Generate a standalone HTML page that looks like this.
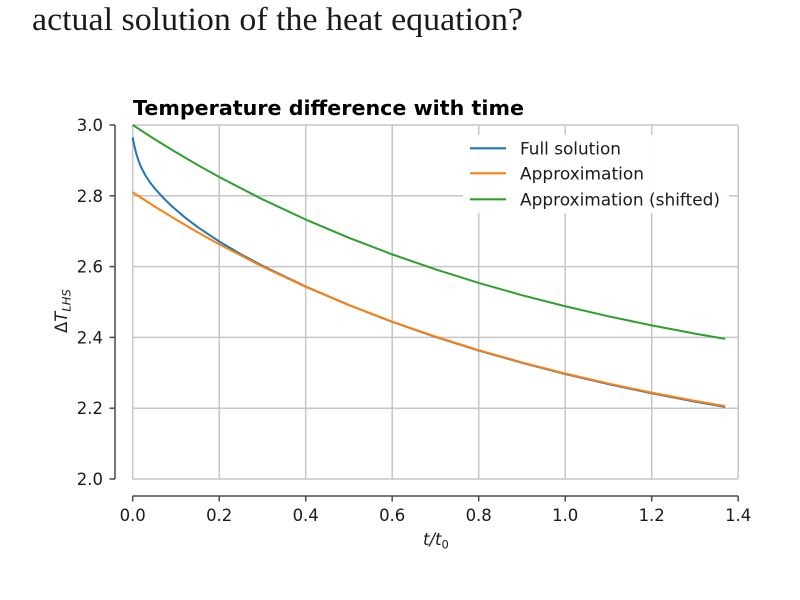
<!DOCTYPE html>
<html>
<head>
<meta charset="utf-8">
<style>
  html, body { margin: 0; padding: 0; background: #ffffff; }
  svg { display: block; }
</style>
</head>
<body>
<svg width="800" height="600" viewBox="0 0 800 600" xmlns="http://www.w3.org/2000/svg">
  <rect x="0" y="0" width="800" height="600" fill="#ffffff"/>

  <!-- Heading -->
  <text x="32" y="30" font-family="Liberation Serif, serif" font-size="33" fill="#1a1a1a" textLength="491" lengthAdjust="spacingAndGlyphs">actual solution of the heat equation?</text>

  <!-- Title -->
  <text x="133" y="115" font-family="DejaVu Sans, Liberation Sans, sans-serif" font-weight="bold" font-size="20" fill="#000" textLength="391" lengthAdjust="spacingAndGlyphs">Temperature difference with time</text>

  <!-- Grid -->
  <g stroke="#c6c6c6" stroke-width="1.5" fill="none">
    <line x1="132.7" y1="125" x2="738.2" y2="125"/>
    <line x1="132.7" y1="195.8" x2="738.2" y2="195.8"/>
    <line x1="132.7" y1="266.6" x2="738.2" y2="266.6"/>
    <line x1="132.7" y1="337.4" x2="738.2" y2="337.4"/>
    <line x1="132.7" y1="408.2" x2="738.2" y2="408.2"/>
    <line x1="132.7" y1="479" x2="738.2" y2="479"/>
    <line x1="132.7" y1="125" x2="132.7" y2="479"/>
    <line x1="219.2" y1="125" x2="219.2" y2="479"/>
    <line x1="305.7" y1="125" x2="305.7" y2="479"/>
    <line x1="392.2" y1="125" x2="392.2" y2="479"/>
    <line x1="478.7" y1="125" x2="478.7" y2="479"/>
    <line x1="565.2" y1="125" x2="565.2" y2="479"/>
    <line x1="651.7" y1="125" x2="651.7" y2="479"/>
    <line x1="738.2" y1="125" x2="738.2" y2="479"/>
  </g>

  <!-- Spines -->
  <g stroke="#4a4a4a" stroke-width="1.5" fill="none">
    <line x1="115" y1="125" x2="115" y2="479"/>
    <line x1="132.7" y1="496" x2="738.2" y2="496"/>
    <!-- y ticks -->
    <line x1="109.5" y1="125" x2="115" y2="125"/>
    <line x1="109.5" y1="195.8" x2="115" y2="195.8"/>
    <line x1="109.5" y1="266.6" x2="115" y2="266.6"/>
    <line x1="109.5" y1="337.4" x2="115" y2="337.4"/>
    <line x1="109.5" y1="408.2" x2="115" y2="408.2"/>
    <line x1="109.5" y1="479" x2="115" y2="479"/>
    <!-- x ticks -->
    <line x1="132.7" y1="496" x2="132.7" y2="501.5"/>
    <line x1="219.2" y1="496" x2="219.2" y2="501.5"/>
    <line x1="305.7" y1="496" x2="305.7" y2="501.5"/>
    <line x1="392.2" y1="496" x2="392.2" y2="501.5"/>
    <line x1="478.7" y1="496" x2="478.7" y2="501.5"/>
    <line x1="565.2" y1="496" x2="565.2" y2="501.5"/>
    <line x1="651.7" y1="496" x2="651.7" y2="501.5"/>
    <line x1="738.2" y1="496" x2="738.2" y2="501.5"/>
  </g>

  <!-- Y tick labels -->
  <g font-family="DejaVu Sans, Liberation Sans, sans-serif" font-size="16.5" fill="#1a1a1a" text-anchor="end">
    <text x="103" y="131">3.0</text>
    <text x="103" y="201.8">2.8</text>
    <text x="103" y="272.6">2.6</text>
    <text x="103" y="343.4">2.4</text>
    <text x="103" y="414.2">2.2</text>
    <text x="103" y="485">2.0</text>
  </g>

  <!-- X tick labels -->
  <g font-family="DejaVu Sans, Liberation Sans, sans-serif" font-size="16.5" fill="#1a1a1a" text-anchor="middle">
    <text x="132.7" y="521">0.0</text>
    <text x="219.2" y="521">0.2</text>
    <text x="305.7" y="521">0.4</text>
    <text x="392.2" y="521">0.6</text>
    <text x="478.7" y="521">0.8</text>
    <text x="565.2" y="521">1.0</text>
    <text x="651.7" y="521">1.2</text>
    <text x="738.2" y="521">1.4</text>
  </g>

  <!-- X axis label -->
  <text x="423" y="545" font-family="DejaVu Sans, Liberation Sans, sans-serif" font-size="16.5" fill="#1a1a1a" font-style="italic">t/t<tspan font-size="11.5" font-style="normal" dy="3.5">0</tspan></text>

  <!-- Y axis label -->
  <text transform="translate(67,333) rotate(-90)" x="0" y="0" font-family="DejaVu Sans, Liberation Sans, sans-serif" font-size="16.5" fill="#1a1a1a">Δ<tspan font-style="italic">T</tspan><tspan font-size="11.5" font-style="italic" dy="3.5">LHS</tspan></text>

  <!-- Series -->
  <g fill="none" stroke-width="2" stroke-linejoin="round" stroke-linecap="butt">
    <path stroke="#1f77b4" d="M132.7,137.39 L134.0,144.19 L135.3,149.89 L137.03,156.2 L139.19,162.56 L141.35,167.74 L145.68,175.87 L150.0,182.34 L154.33,187.91 L162.98,197.57 L171.63,206.01 L184.6,217.19 L197.58,227.04 L219.2,241.48 L240.83,254.21 L262.45,265.79 L305.7,286.56 L348.95,305.1 L392.2,321.84 L435.45,336.9 L478.7,350.5 L521.95,362.8 L565.2,374.0 L608.45,384.1 L651.7,393.3 L694.95,401.6 L725.2,406.9"/>
    <path stroke="#ff7f0e" d="M132.7,192.26 L154.33,206.24 L175.95,219.55 L197.58,232.2 L219.2,244.24 L262.45,266.58 L305.7,286.79 L348.95,305.08 L392.2,321.64 L435.45,336.61 L478.7,350.16 L521.95,362.42 L565.2,373.51 L608.45,383.55 L651.7,392.64 L694.95,400.85 L725.2,406.14"/>
    <path stroke="#2ca02c" d="M132.7,125 L154.33,138.98 L175.95,152.29 L197.58,164.94 L219.2,176.98 L262.45,199.32 L305.7,219.53 L348.95,237.82 L392.2,254.38 L435.45,269.35 L478.7,282.9 L521.95,295.16 L565.2,306.25 L608.45,316.29 L651.7,325.38 L694.95,333.59 L725.2,338.88"/>
  </g>

  <!-- Legend -->
  <rect x="463" y="135" width="266" height="78" fill="#ffffff" opacity="0.95"/>
  <g stroke-width="2.2">
    <line x1="470" y1="148.3" x2="506" y2="148.3" stroke="#1f77b4"/>
    <line x1="470" y1="173.3" x2="506" y2="173.3" stroke="#ff7f0e"/>
    <line x1="470" y1="199.3" x2="506" y2="199.3" stroke="#2ca02c"/>
  </g>
  <g font-family="DejaVu Sans, Liberation Sans, sans-serif" font-size="17" fill="#1a1a1a">
    <text x="520" y="154.3" textLength="101" lengthAdjust="spacingAndGlyphs">Full solution</text>
    <text x="520" y="179.3" textLength="124" lengthAdjust="spacingAndGlyphs">Approximation</text>
    <text x="520" y="205.3" textLength="200" lengthAdjust="spacingAndGlyphs">Approximation (shifted)</text>
  </g>
</svg>
</body>
</html>
